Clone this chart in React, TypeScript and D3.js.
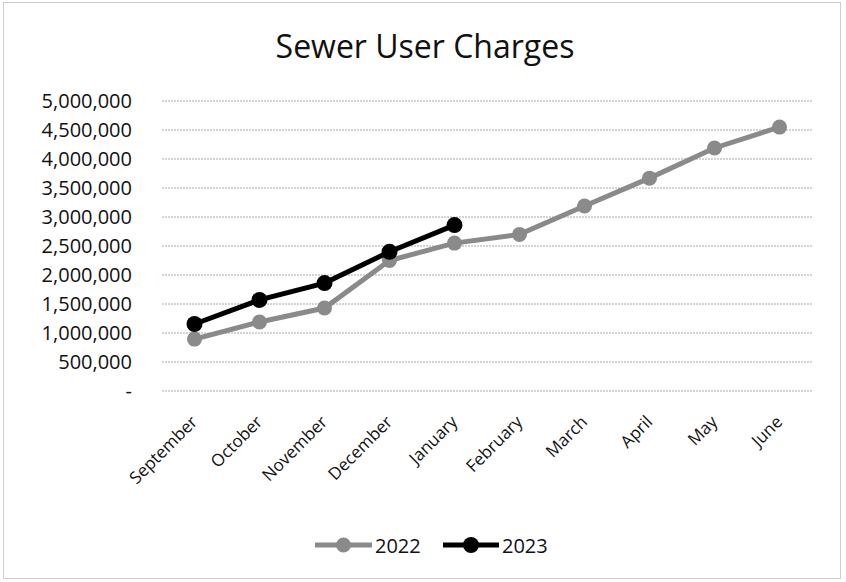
import React from "react";
import * as d3 from "d3";

const categories = ["September","October","November","December","January","February","March","April","May","June"];
const values2022 = [895000, 1190000, 1430000, 2250000, 2550000, 2700000, 3190000, 3670000, 4190000, 4550000];
const values2023 = [1155000, 1570000, 1860000, 2400000, 2860000];
const yTicks = [0, 500000, 1000000, 1500000, 2000000, 2500000, 3000000, 3500000, 4000000, 4500000, 5000000];
const seriesNames = ["2022", "2023"];

const W = 846, H = 582;
const ff = "'Open Sans', sans-serif";

export default function App() {
  const x = d3.scaleBand<string>().domain(categories).range([162, 812]);
  const y = d3.scaleLinear().domain([0, 5000000]).range([391, 101]);
  const cx = (c: string) => (x(c) as number) + x.bandwidth() / 2;
  const line = d3.line<number>().x((_, i) => cx(categories[i])).y(d => y(d));
  const fmt = (v: number) => (v === 0 ? "-" : d3.format(",")(v));
  const gray = "#8a8a8a";
  return (
    <div style={{ position: "absolute", left: 0, top: 0 }}>
      <svg width={W} height={H} style={{ display: "block" }}>
        <rect x={0} y={0} width={W} height={H} fill="#fff" />
        <rect x={3.5} y={2.5} width={837} height={576} fill="none" stroke="#9a9a9a" strokeWidth={1} strokeDasharray="1 1" />
        <text x={425} y={58} textAnchor="middle" fontFamily={ff} fontSize={32} fill="#111">Sewer User Charges</text>
        {yTicks.map(t => (
          <g key={t}>
            <line x1={162} x2={812} y1={y(t)} y2={y(t)} stroke="#a8a8a8" strokeWidth={1} strokeDasharray="2 1" />
            <text x={132} y={y(t) + 7} textAnchor="end" fontFamily={ff} fontSize={20} fill="#111">{fmt(t)}</text>
          </g>
        ))}
        {categories.map(c => (
          <text key={c} transform={`translate(${cx(c) + 4},${423}) rotate(-45)`} textAnchor="end" fontFamily={ff} fontSize={17} fill="#111">{c}</text>
        ))}
        <path d={line(values2022) || ""} fill="none" stroke={gray} strokeWidth={5} />
        {values2022.map((v, i) => (
          <circle key={i} cx={cx(categories[i])} cy={y(v)} r={7.5} fill={gray} />
        ))}
        <path d={line(values2023) || ""} fill="none" stroke="#000" strokeWidth={5} />
        {values2023.map((v, i) => (
          <circle key={i} cx={cx(categories[i])} cy={y(v)} r={8} fill="#000" />
        ))}
        <g>
          <line x1={315} x2={372} y1={545} y2={545} stroke={gray} strokeWidth={5} />
          <circle cx={343.5} cy={545} r={7.5} fill={gray} />
          <text x={375} y={553} fontFamily={ff} fontSize={20} fill="#111">{seriesNames[0]}</text>
          <line x1={443} x2={499} y1={545} y2={545} stroke="#000" strokeWidth={5} />
          <circle cx={471} cy={545} r={8} fill="#000" />
          <text x={502} y={553} fontFamily={ff} fontSize={20} fill="#111">{seriesNames[1]}</text>
        </g>
      </svg>
    </div>
  );
}
